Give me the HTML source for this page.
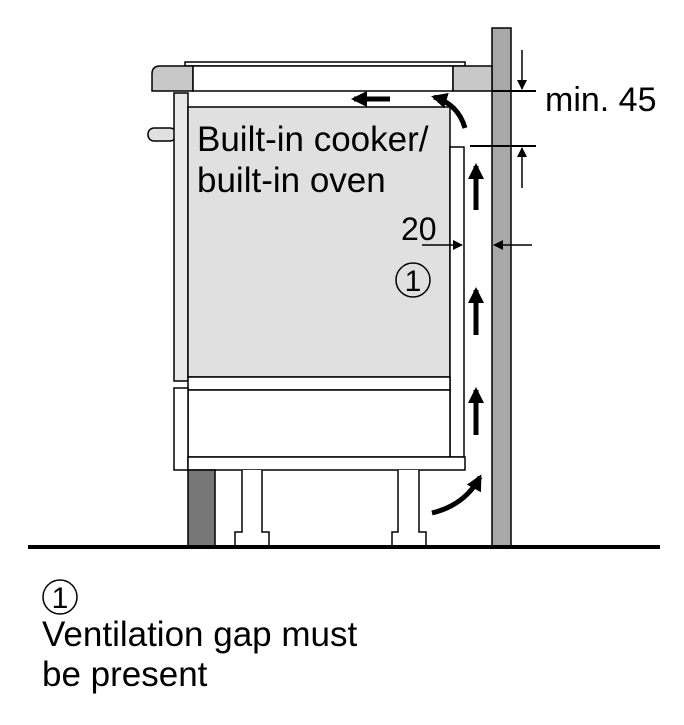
<!DOCTYPE html>
<html><head><style>
body{margin:0;background:#fff;width:684px;height:720px;overflow:hidden}
text{font-family:"Liberation Sans",sans-serif;fill:#000}
</style></head><body>
<svg width="684" height="720" viewBox="0 0 684 720" xmlns="http://www.w3.org/2000/svg">
<defs>
<marker id="ah" markerWidth="10" markerHeight="10" refX="9" refY="5" orient="auto" markerUnits="userSpaceOnUse"><path d="M0,0 L10,5 L0,10 z" fill="#000"/></marker>
<marker id="ab" markerWidth="16" markerHeight="16" refX="13" refY="8" orient="auto" markerUnits="userSpaceOnUse"><path d="M0,0 L16,8 L0,16 z" fill="#000"/></marker>
</defs>
<g stroke="#000" stroke-width="1.5">
<rect x="492" y="28" width="19" height="519" fill="#a8a8a8"/>
<rect x="185" y="62" width="280" height="4" fill="#fff"/>
<path d="M160,66 H193 V91 H152 V74 Q152,66 160,66 z" fill="#c8c8c8"/>
<rect x="193" y="66" width="260" height="25" fill="#fff"/>
<rect x="453" y="66" width="39" height="25" fill="#c8c8c8"/>
<rect x="148" y="128" width="28" height="13" rx="6" fill="#e0e0e0"/>
<rect x="174" y="93" width="14" height="288" fill="#e8e8e8"/>
<rect x="188" y="107" width="262" height="270" fill="#e0e0e0"/>
<rect x="450" y="147" width="14" height="310" fill="#fff"/>
<rect x="188" y="377" width="262" height="13" fill="#fff"/>
<rect x="188" y="390" width="262" height="67" fill="#fff"/>
<rect x="174" y="388" width="14" height="82" fill="#fff"/>
<rect x="188" y="457" width="277" height="13" fill="#fff"/>
<rect x="188" y="470" width="27" height="77" fill="#777"/>
<path d="M242,470 V532 H235 V547 H269 V532 H262 V470" fill="#fff"/>
<path d="M398,470 V532 H392 V547 H426 V532 H419 V470" fill="#fff"/>
</g>
<rect x="28" y="545" width="632" height="4" fill="#000"/>
<g stroke="#000" stroke-width="1.5" fill="none">
<line x1="492" y1="91" x2="536" y2="91" stroke-width="2"/>
<line x1="470" y1="146" x2="536" y2="146" stroke-width="2"/>
<line x1="522" y1="50" x2="522" y2="89" marker-end="url(#ah)"/>
<line x1="522" y1="188" x2="522" y2="148" marker-end="url(#ah)"/>
<line x1="422" y1="245" x2="462" y2="245" marker-end="url(#ah)"/>
<line x1="532" y1="245" x2="494" y2="245" marker-end="url(#ah)"/>
</g>
<g stroke="#000" stroke-width="5" fill="none">
<line x1="390" y1="99" x2="354" y2="99" marker-end="url(#ab)"/>
<path d="M465,128 Q458,104 434,97" marker-end="url(#ab)"/>
<line x1="476" y1="210" x2="476" y2="166" marker-end="url(#ab)"/>
<line x1="476" y1="335" x2="476" y2="290" marker-end="url(#ab)"/>
<line x1="476" y1="435" x2="476" y2="390" marker-end="url(#ab)"/>
<path d="M432,513 Q465,505 480,477" marker-end="url(#ab)"/>
</g>
<text x="197" y="151" font-size="35">Built-in cooker/</text>
<text x="197" y="192" font-size="35">built-in oven</text>
<text x="545" y="111" font-size="34">min. 45</text>
<text x="401" y="240" font-size="32">20</text>
<circle cx="413" cy="280" r="17" fill="none" stroke="#000" stroke-width="1.5"/>
<text x="413" y="291" font-size="30" text-anchor="middle">1</text>
<circle cx="60" cy="597" r="17" fill="none" stroke="#000" stroke-width="1.5"/>
<text x="60" y="608" font-size="30" text-anchor="middle">1</text>
<text x="42" y="646" font-size="35">Ventilation gap must</text>
<text x="42" y="686" font-size="35">be present</text>
</svg>
</body></html>
